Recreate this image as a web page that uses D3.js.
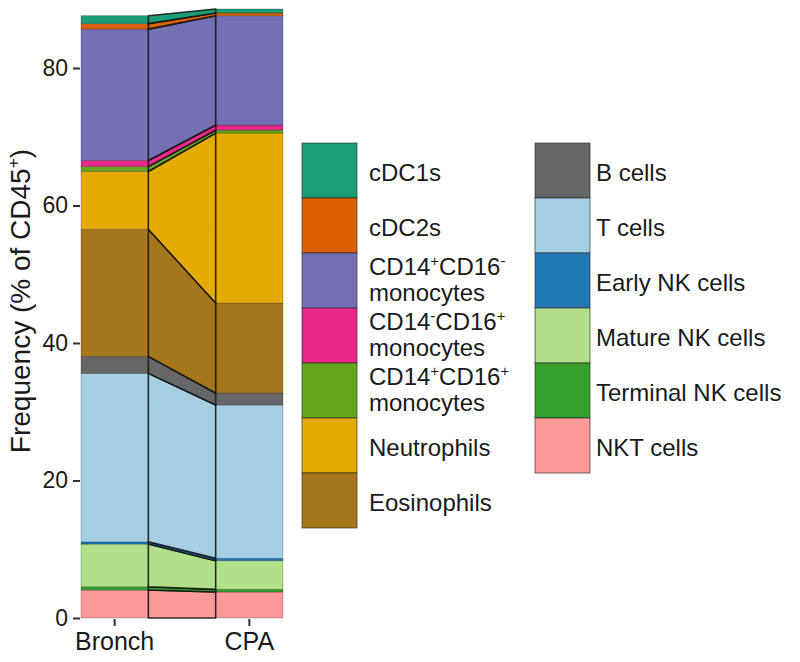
<!DOCTYPE html>
<html><head><meta charset="utf-8">
<script src="https://cdn.jsdelivr.net/npm/d3@7"></script>
<style>
body{margin:0;background:#fff}
text{font-family:"Liberation Sans", Arial, Helvetica, sans-serif;fill:#1a1a1a}
</style>
</head><body><svg id="chart" width="800" height="662"></svg>
<script>
// ---------- data ----------
const stages = ["Bronch", "CPA"];
const cellTypes = ["cDC1s", "cDC2s", "CD14+CD16- monocytes", "CD14-CD16+ monocytes",
  "CD14+CD16+ monocytes", "Neutrophils", "Eosinophils", "B cells", "T cells",
  "Early NK cells", "Mature NK cells", "Terminal NK cells", "NKT cells"];
// legend labels: "^" marks a superscript sign, "|" a line break
const legendLabels = ["cDC1s", "cDC2s", "CD14^+CD16^-|monocytes", "CD14^-CD16^+|monocytes",
  "CD14^+CD16^+|monocytes", "Neutrophils", "Eosinophils", "B cells", "T cells",
  "Early NK cells", "Mature NK cells", "Terminal NK cells", "NKT cells"];
const cellColors = ["#1b9e77", "#d95f02", "#7570b3", "#e7298a", "#66a61e", "#e6ab02", "#a6761d",
  "#666666", "#a6cee3", "#1f78b4", "#b2df8a", "#33a02c", "#fb9a99"];
const bronchValues = [1.16, 0.80, 19.1, 0.90, 0.70, 8.4, 18.5, 2.47, 24.5, 0.33, 6.2, 0.48, 4.07];
const cpaValues    = [0.58, 0.40, 15.9, 0.73, 0.44, 24.7, 13.1, 1.75, 22.3, 0.35, 4.16, 0.39, 3.78];
const yTicks = [0, 20, 40, 60, 80];
const yTitle = "Frequency (% of CD45^+)";

// ---------- scales ----------
const svg = d3.select("#chart");
const x = d3.scaleBand().domain(stages).range([81, 283]).paddingInner(0.5).paddingOuter(0);
const y = d3.scaleLinear().domain([0, 80]).range([618, 68]);

// stacking: bottom = last legend item
const order = d3.range(cellTypes.length).reverse();
function stackOf(vals) {
  const out = new Array(vals.length);
  let acc = 0;
  order.forEach(i => { out[i] = [acc, acc + vals[i]]; acc += vals[i]; });
  return out;
}
const stacks = { Bronch: stackOf(bronchValues), CPA: stackOf(cpaValues) };

// ---------- strata ----------
const strataG = svg.append("g");
stages.forEach(s => {
  order.forEach(i => {
    const d = stacks[s][i];
    strataG.append("rect")
      .attr("x", x(s)).attr("width", x.bandwidth())
      .attr("y", y(d[1])).attr("height", y(d[0]) - y(d[1]))
      .attr("fill", cellColors[i])
      .attr("stroke", "rgba(0,0,0,0.3)").attr("stroke-width", 0.7);
  });
});

// ---------- flows ----------
const xL = x("Bronch") + x.bandwidth();
const xR = x("CPA");
const flowG = svg.append("g");
order.forEach(i => {
  const a = stacks.Bronch[i], b = stacks.CPA[i];
  const pts = [[xL, y(a[1])], [xR, y(b[1])], [xR, y(b[0])], [xL, y(a[0])]];
  flowG.append("path")
    .attr("d", d3.line()(pts) + "Z")
    .attr("fill", cellColors[i])
    .attr("stroke", "#111").attr("stroke-opacity", 0.85)
    .attr("stroke-width", 1.6).attr("stroke-linejoin", "round");
});

// ---------- axes ----------
const yAxis = d3.axisLeft(y).tickValues(yTicks).tickSize(7).tickPadding(5);
const yg = svg.append("g").attr("transform", "translate(80,0)").call(yAxis);
yg.select(".domain").remove();
yg.selectAll(".tick line").attr("stroke", "#333").attr("stroke-width", 2);
yg.selectAll(".tick text").attr("font-size", 23).attr("fill", "#1a1a1a")
  .style("font-family", "Liberation Sans, Arial, sans-serif");

const xAxis = d3.axisBottom(x).tickSize(7).tickPadding(6);
const xg = svg.append("g").attr("transform", "translate(0,619)").call(xAxis);
xg.select(".domain").remove();
xg.selectAll(".tick line").attr("stroke", "#333").attr("stroke-width", 2);
xg.selectAll(".tick text").attr("font-size", 25).attr("fill", "#1a1a1a")
  .attr("dy", null).attr("y", 31)
  .style("font-family", "Liberation Sans, Arial, sans-serif");

// helper to write text with ^ superscripts
function richText(sel, str, size, firstAttrs) {
  const parts = str.split(/(\^[+-])/).filter(p => p.length);
  let raised = false, first = true;
  parts.forEach(p => {
    let t;
    if (p[0] === "^") {
      t = sel.append("tspan").text(p[1]).attr("font-size", size * 0.62)
        .attr("dy", -size * 0.38);
      raised = true;
    } else {
      t = sel.append("tspan").text(p);
      if (raised) { t.attr("dy", size * 0.38); raised = false; }
    }
    if (first && firstAttrs) { firstAttrs(t); }
    first = false;
  });
}

// y title
const tt = svg.append("text")
  .attr("transform", "translate(30,301) rotate(-90)")
  .attr("text-anchor", "middle").attr("font-size", 28);
richText(tt, yTitle, 28);

// ---------- legend ----------
const keyH = 55, keyW = 55, legTop = 143;
const cols = [{ x: 302, tx: 369, items: d3.range(0, 7) }, { x: 535, tx: 596, items: d3.range(7, 13) }];
cols.forEach(c => {
  c.items.forEach((i, k) => {
    const top = legTop + k * keyH;
    svg.append("rect").attr("x", c.x).attr("y", top).attr("width", keyW).attr("height", keyH)
      .attr("fill", cellColors[i]).attr("stroke", "rgba(40,40,40,0.8)").attr("stroke-width", 0.8);
    const lines = legendLabels[i].split("|");
    lines.forEach((ln, j) => {
      const base = lines.length === 1 ? top + 38 : top + 22 + j * 26;
      const t = svg.append("text").attr("x", c.tx).attr("y", base).attr("font-size", 24);
      richText(t, ln, 24);
    });
  });
});
</script>
</body></html>
